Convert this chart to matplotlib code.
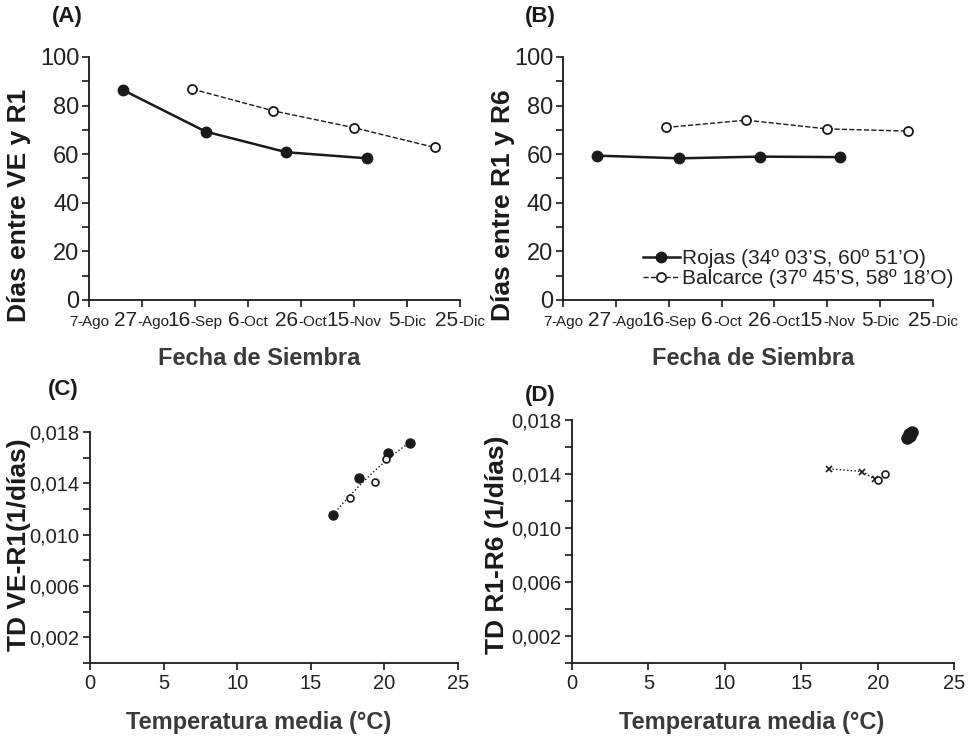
import numpy as np
import matplotlib
matplotlib.use('Agg')
import matplotlib.pyplot as plt
from matplotlib.offsetbox import TextArea, HPacker, AnnotationBbox
from matplotlib.ticker import FixedLocator, MultipleLocator

plt.rcParams['font.family'] = ['Liberation Sans', 'DejaVu Sans']

# fechas como dias desde el 7-Ago
fecha_ticks = [0, 20, 40, 60, 80, 100, 120, 140]
fecha_num = ['7', '27', '16', '6', '26', '15', '5', '25']
fecha_mes = ['-Ago', '-Ago', '-Sep', '-Oct', '-Oct', '-Nov', '-Dic', '-Dic']

# (A) dias entre VE y R1
rojas_fecha = [13, 44, 74.5, 105]
rojas_ve_r1 = [86.3, 69.3, 60.8, 58.3]
balc_fecha = [39, 69.3, 100, 130.4]
balc_ve_r1 = [86.8, 77.9, 70.9, 62.8]

# (B) dias entre R1 y R6
rojas_r1_r6 = [59.4, 58.3, 59.0, 58.8]
balc_r1_r6 = [71.0, 74.0, 70.4, 69.5]

# (C) tasa de desarrollo VE-R1 vs temperatura
c_rojas_t = [16.5, 18.26, 20.25, 21.76]
c_rojas_td = [0.01153, 0.01439, 0.01639, 0.01712]
c_balc_t = [17.67, 19.35, 20.14]
c_balc_td = [0.01283, 0.01410, 0.01587]

# (D) tasa de desarrollo R1-R6 vs temperatura
d_rojas_t = [21.9, 22.05, 22.25, 22.1]
d_rojas_td = [0.0167, 0.0170, 0.0171, 0.0168]
d_cruz_t = [16.8, 19.0, 19.8]
d_cruz_td = [0.01440, 0.01420, 0.01362]
d_balc_t = [20.0, 20.5]
d_balc_td = [0.01356, 0.01405]

ink = '#1a1a1a'
label_col = '#3a3a3a'

fig = plt.figure(figsize=(9.75, 7.4), dpi=100)
axA = fig.add_axes([0.0913, 0.5946, 0.3805, 0.3284])
axB = fig.add_axes([0.5774, 0.5946, 0.3795, 0.3284])
axC = fig.add_axes([0.0923, 0.1040, 0.3774, 0.3122])
axD = fig.add_axes([0.5867, 0.1037, 0.3918, 0.3284])


def style(ax):
    for s in ['top', 'right']:
        ax.spines[s].set_visible(False)
    for s in ['left', 'bottom']:
        ax.spines[s].set_linewidth(1.3)
        ax.spines[s].set_color(ink)
    ax.tick_params(which='both', direction='out', length=5, width=1.2, color=ink)


def fecha_axis(ax):
    ax.set_xlim(0, 140)
    ax.set_ylim(0, 100)
    ax.set_xticks(fecha_ticks)
    ax.set_xticklabels([])
    ax.yaxis.set_major_locator(MultipleLocator(20))
    ax.yaxis.set_minor_locator(MultipleLocator(10))
    ax.tick_params(axis='y', labelsize=17, labelcolor='#222222', pad=2)
    for i, (x, n, m) in enumerate(zip(fecha_ticks, fecha_num, fecha_mes)):
        big = 11 if i == 0 else 15
        dy = -11 if i == 0 else -8
        pack = HPacker(children=[TextArea(n, textprops=dict(fontsize=big, color='#222222')),
                                 TextArea(m, textprops=dict(fontsize=11, color='#222222'))],
                       align='baseline', pad=0, sep=0)
        ab = AnnotationBbox(pack, (x, 0), xycoords=ax.get_xaxis_transform(),
                            xybox=(0, dy), boxcoords='offset points',
                            box_alignment=(0.5, 1), frameon=False, pad=0,
                            annotation_clip=False)
        ax.add_artist(ab)
    style(ax)


# (A)
axA.plot(rojas_fecha, rojas_ve_r1, '-o', color=ink, lw=1.8, ms=7.5, mfc=ink, mec=ink)
axA.plot(balc_fecha, balc_ve_r1, '--o', color=ink, lw=1.0, ms=6.5, mfc='white', mec=ink, mew=1.3)
fecha_axis(axA)

# (B)
axB.plot(rojas_fecha, rojas_r1_r6, '-o', color=ink, lw=1.8, ms=7.5, mfc=ink, mec=ink,
         label='Rojas (34º 03’S, 60º 51’O)')
axB.plot(balc_fecha, balc_r1_r6, '--o', color=ink, lw=1.0, ms=6.5, mfc='white', mec=ink, mew=1.3,
         label='Balcarce (37º 45’S, 58º 18’O)')
fecha_axis(axB)
axB.legend(loc='upper left', bbox_to_anchor=(0.215, 0.21), frameon=False, fontsize=15,
           borderpad=0, borderaxespad=0, handlelength=1.8, handletextpad=0.1,
           labelspacing=0.05, labelcolor='#222222')


def temp_axis(ax):
    ax.set_xlim(0, 25)
    ax.set_ylim(0, 0.018)
    ax.set_xticks([0, 5, 10, 15, 20, 25])
    ax.yaxis.set_major_locator(FixedLocator([0.002, 0.006, 0.010, 0.014, 0.018]))
    ax.yaxis.set_minor_locator(FixedLocator([0.0, 0.004, 0.008, 0.012, 0.016]))
    ax.set_yticklabels(['0,002', '0,006', '0,010', '0,014', '0,018'])
    ax.tick_params(axis='both', labelsize=14.5, labelcolor='#222222', pad=3)
    style(ax)


# (C)
t_all = np.array(c_rojas_t + c_balc_t)
td_all = np.array(c_rojas_td + c_balc_td)
coef = np.polyfit(t_all, td_all, 2)
tt = np.linspace(min(c_rojas_t), max(c_rojas_t), 50)
axC.plot(tt, np.polyval(coef, tt), ':', color=ink, lw=1.0)
axC.plot(c_rojas_t, c_rojas_td, 'o', color=ink, ms=6.5)
axC.plot(c_balc_t, c_balc_td, 'o', mfc='white', mec=ink, ms=5, mew=1.2)
temp_axis(axC)

# (D)
axD.plot(d_cruz_t, d_cruz_td, ':x', color=ink, lw=1.0, ms=5, mew=1.2)
axD.plot(d_balc_t, d_balc_td, '--o', color=ink, lw=0.8, ms=5, mfc='white', mec=ink, mew=1.2)
axD.plot(d_rojas_t, d_rojas_td, 'o', color=ink, ms=8)
temp_axis(axD)

# etiquetas
fig.text(0.069, 0.978, '(A)', fontsize=16, fontweight='bold', ha='center', va='center', color=ink)
fig.text(0.554, 0.978, '(B)', fontsize=16, fontweight='bold', ha='center', va='center', color=ink)
fig.text(0.065, 0.473, '(C)', fontsize=16, fontweight='bold', ha='center', va='center', color=ink)
fig.text(0.554, 0.466, '(D)', fontsize=16, fontweight='bold', ha='center', va='center', color=ink)

fig.text(0.019, 0.723, 'Días entre VE y R1', rotation=90, fontsize=19, fontweight='bold',
         ha='center', va='center', color=ink)
fig.text(0.516, 0.723, 'Días entre R1 y R6', rotation=90, fontsize=19, fontweight='bold',
         ha='center', va='center', color=ink)
fig.text(0.019, 0.264, 'TD VE-R1(1/días)', rotation=90, fontsize=19, fontweight='bold',
         ha='center', va='center', color=ink)
fig.text(0.510, 0.264, 'TD R1-R6 (1/días)', rotation=90, fontsize=19, fontweight='bold',
         ha='center', va='center', color=ink)

fig.text(0.266, 0.516, 'Fecha de Siembra', fontsize=17, fontweight='bold', ha='center',
         va='center', color=label_col)
fig.text(0.773, 0.516, 'Fecha de Siembra', fontsize=17, fontweight='bold', ha='center',
         va='center', color=label_col)
fig.text(0.265, 0.024, 'Temperatura media (°C)', fontsize=17, fontweight='bold', ha='center',
         va='center', color=label_col)
fig.text(0.771, 0.024, 'Temperatura media (°C)', fontsize=17, fontweight='bold', ha='center',
         va='center', color=label_col)

fig.savefig('out.png', dpi=100)
